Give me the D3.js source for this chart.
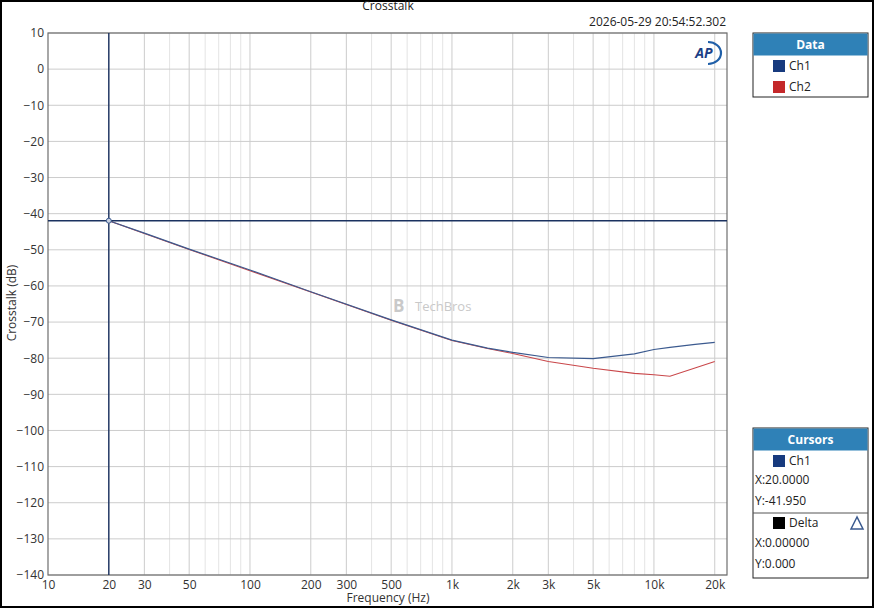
<!DOCTYPE html>
<html lang="en">
<head>
<meta charset="utf-8">
<title>Crosstalk</title>
<script src="https://d3js.org/d3.v7.min.js"></script>
<style>
  body { margin: 0; background: #fff; }
  svg { display: block; font-family: "Open Sans", "Noto Sans", sans-serif; }
</style>
</head>
<body>
<svg width="874" height="608"></svg>
<script>
// values
const freqs1 = [20, 30, 50, 100, 200, 500, 1000, 1500, 2000, 3000, 5000, 8000, 10000, 12000, 16000, 20000];
const ch1 = [-41.95, -45.4, -49.8, -55.6, -61.6, -69.4, -75.0, -77.2, -78.4, -79.8, -80.1, -78.8, -77.6, -77.0, -76.2, -75.6];
const freqs2 = [20, 30, 50, 100, 200, 500, 1000, 1500, 2000, 3000, 5000, 8000, 10000, 12000, 20000];
const ch2 = [-41.95, -45.5, -49.9, -55.8, -61.7, -69.5, -75.1, -77.3, -78.7, -80.9, -82.8, -84.2, -84.6, -85.0, -80.9];
const xTickVals = [10, 20, 30, 50, 100, 200, 300, 500, 1000, 2000, 3000, 5000, 10000, 20000];
const xTickLabels = ["10", "20", "30", "50", "100", "200", "300", "500", "1k", "2k", "3k", "5k", "10k", "20k"];
const yTickVals = d3.range(10, -141, -10);
const cursor = { x: 20, y: -41.95 };

const svg = d3.select("svg");
const W = 874, H = 608;
const pL = 48, pT = 33, pR = 727, pB = 575;

const x = d3.scaleLog().domain([10, 23000]).range([pL, pR]);
const y = d3.scaleLinear().domain([-140, 10]).range([pB, pT]);

// outer frame
svg.append("rect").attr("x", 1).attr("y", 1).attr("width", W - 2).attr("height", H - 2)
  .attr("fill", "#fff").attr("stroke", "#000").attr("stroke-width", 2);

// grid
const minor = [];
for (let d = 10; d <= 10000; d *= 10) for (let k = 1; k <= 9; k++) if (d * k < 23000) minor.push(d * k);
svg.append("g").selectAll("line").data(minor.filter(v => !xTickVals.includes(v)))
  .join("line").attr("x1", d => x(d)).attr("x2", d => x(d)).attr("y1", pT).attr("y2", pB)
  .attr("stroke", "#e4e4e4").attr("stroke-width", 1);
svg.append("g").selectAll("line").data(xTickVals.slice(1))
  .join("line").attr("x1", d => x(d)).attr("x2", d => x(d)).attr("y1", pT).attr("y2", pB)
  .attr("stroke", "#cccccc").attr("stroke-width", 1);
svg.append("g").selectAll("line").data(yTickVals)
  .join("line").attr("x1", pL).attr("x2", pR).attr("y1", d => y(d)).attr("y2", d => y(d))
  .attr("stroke", "#cccccc").attr("stroke-width", 1);

svg.append("rect").attr("x", pL).attr("y", pT).attr("width", pR - pL).attr("height", pB - pT)
  .attr("fill", "none").attr("stroke", "#6e6e6e").attr("stroke-width", 1.2);

// axes labels
const xAxis = d3.axisBottom(x).tickValues(xTickVals)
  .tickFormat((d, i) => xTickLabels[i]).tickSize(0).tickPadding(5);
const gx = svg.append("g").attr("transform", `translate(0,${pB})`).call(xAxis);
gx.select(".domain").remove();
gx.selectAll("text").attr("font-size", 12).attr("fill", "#333").attr("font-family", "Open Sans, sans-serif");

const yAxis = d3.axisLeft(y).tickValues(yTickVals).tickSize(0).tickPadding(4);
const gy = svg.append("g").attr("transform", `translate(${pL},0)`).call(yAxis);
gy.select(".domain").remove();
gy.selectAll("text").attr("font-size", 12).attr("fill", "#333").attr("font-family", "Open Sans, sans-serif");

svg.append("text").attr("x", 388).attr("y", 602).attr("text-anchor", "middle")
  .attr("font-size", 12).attr("fill", "#333").text("Frequency (Hz)");
svg.append("text").attr("transform", "translate(16,303) rotate(-90)").attr("text-anchor", "middle")
  .attr("font-size", 12).attr("fill", "#333").text("Crosstalk (dB)");
svg.append("text").attr("x", 388).attr("y", 10).attr("text-anchor", "middle")
  .attr("font-size", 12).attr("fill", "#222").text("Crosstalk");
svg.append("text").attr("x", 726).attr("y", 26).attr("text-anchor", "end")
  .attr("font-size", 12).attr("fill", "#222").text("2026-05-29 20:54:52.302");

// watermark
const wm = svg.append("g").attr("fill", "#c9c9c9");
wm.append("text").attr("x", 393).attr("y", 312).attr("font-size", 17).attr("font-weight", 700).text("B");
wm.append("text").attr("x", 415).attr("y", 311).attr("font-size", 13).text("TechBros");

// AP logo
const logo = svg.append("g").attr("transform", "translate(706,53)");
logo.append("path").attr("d", "M2,-11 A13,11 0 0 1 2,11").attr("fill", "none")
  .attr("stroke", "#1f5fa8").attr("stroke-width", 2.2);
logo.append("text").attr("x", -2).attr("y", 5).attr("text-anchor", "middle")
  .attr("font-size", 14).attr("font-weight", 700).attr("font-style", "italic")
  .attr("fill", "#1c3f86").text("AP");

// curves
const line = d3.line().x(d => x(d[0])).y(d => y(d[1]));
svg.append("path").datum(d3.zip(freqs2, ch2)).attr("d", line)
  .attr("fill", "none").attr("stroke", "#c9474a").attr("stroke-width", 1.1);
svg.append("path").datum(d3.zip(freqs1, ch1)).attr("d", line)
  .attr("fill", "none").attr("stroke", "#3b5a8f").attr("stroke-width", 1.2);

// cursor
svg.append("line").attr("x1", x(cursor.x)).attr("x2", x(cursor.x)).attr("y1", pT).attr("y2", pB)
  .attr("stroke", "#1b3260").attr("stroke-width", 1.4);
svg.append("line").attr("x1", pL).attr("x2", pR).attr("y1", y(cursor.y)).attr("y2", y(cursor.y))
  .attr("stroke", "#1b3260").attr("stroke-width", 1.4);
svg.append("circle").attr("cx", x(cursor.x)).attr("cy", y(cursor.y)).attr("r", 2.5)
  .attr("fill", "#c8d0e0").attr("stroke", "#3b5a8f").attr("stroke-width", 1);

// panels
function panel(px, py, w, h, title) {
  const g = svg.append("g").attr("transform", `translate(${px},${py})`);
  g.append("rect").attr("width", w).attr("height", h).attr("fill", "#fff").attr("stroke", "#222");
  g.append("rect").attr("x", 0.5).attr("y", 0.5).attr("width", w - 1).attr("height", 22).attr("fill", "#2f81b7");
  g.append("text").attr("x", w / 2).attr("y", 16).attr("text-anchor", "middle")
    .attr("font-size", 12).attr("font-weight", 700).attr("fill", "#fff").text(title);
  return g;
}
const dp = panel(753, 33, 115, 64, "Data");
[["Ch1", "#173a7e"], ["Ch2", "#c4282a"]].forEach((s, i) => {
  dp.append("rect").attr("x", 20).attr("y", 27 + i * 21).attr("width", 12).attr("height", 12).attr("fill", s[1]);
  dp.append("text").attr("x", 36).attr("y", 37 + i * 21).attr("font-size", 12).attr("fill", "#222").text(s[0]);
});

const cp = panel(753, 428, 115, 150, "Cursors");
cp.append("rect").attr("x", 20).attr("y", 27).attr("width", 12).attr("height", 12).attr("fill", "#173a7e");
cp.append("text").attr("x", 36).attr("y", 37).attr("font-size", 12).attr("fill", "#222").text("Ch1");
cp.append("text").attr("x", 2).attr("y", 56).attr("font-size", 12).attr("fill", "#222").text("X:" + cursor.x.toFixed(4));
cp.append("text").attr("x", 2).attr("y", 77).attr("font-size", 12).attr("fill", "#222").text("Y:" + cursor.y.toFixed(3));
cp.append("line").attr("x1", 0).attr("x2", 115).attr("y1", 85).attr("y2", 85).attr("stroke", "#555");
cp.append("rect").attr("x", 20).attr("y", 89).attr("width", 12).attr("height", 12).attr("fill", "#000");
cp.append("text").attr("x", 36).attr("y", 99).attr("font-size", 12).attr("fill", "#222").text("Delta");
cp.append("path").attr("d", "M104,89 L98,101 L110,101 Z").attr("fill", "#fff")
  .attr("stroke", "#3b5a8f").attr("stroke-width", 1.5);
cp.append("text").attr("x", 2).attr("y", 119).attr("font-size", 12).attr("fill", "#222").text("X:0.00000");
cp.append("text").attr("x", 2).attr("y", 140).attr("font-size", 12).attr("fill", "#222").text("Y:0.000");
</script>
</body>
</html>
